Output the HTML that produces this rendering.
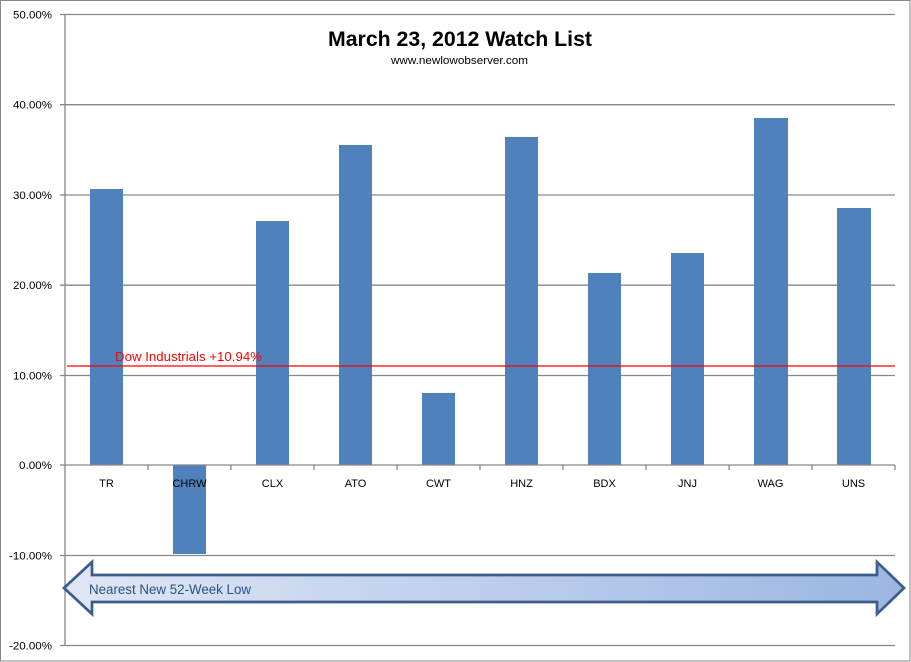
<!DOCTYPE html>
<html><head><meta charset="utf-8"><style>
html,body{margin:0;padding:0;background:#fff;}
svg{display:block;}
text{font-family:"Liberation Sans",sans-serif;}
</style></head><body>
<svg width="911" height="662" viewBox="0 0 911 662" xmlns="http://www.w3.org/2000/svg">
<defs>
<linearGradient id="ag" x1="0" y1="0" x2="1" y2="0">
<stop offset="0" stop-color="#dfe7f5"/>
<stop offset="1" stop-color="#9bb6e2"/>
</linearGradient>
</defs>
<rect x="0.5" y="0.5" width="909.5" height="660.5" fill="#fff" stroke="#868686" stroke-width="1"/>
<g stroke="#868686" stroke-width="1.3">
<line x1="60" y1="14.5" x2="895" y2="14.5"/>
<line x1="60" y1="104.7" x2="895" y2="104.7"/>
<line x1="60" y1="195" x2="895" y2="195"/>
<line x1="60" y1="285.2" x2="895" y2="285.2"/>
<line x1="60" y1="375.5" x2="895" y2="375.5"/>
<line x1="60" y1="555.5" x2="895" y2="555.5"/>
<line x1="60" y1="645.5" x2="895" y2="645.5"/>
<line x1="65" y1="14" x2="65" y2="646"/>
</g>
<g fill="#4f81bd">
<rect x="90" y="189" width="33" height="276"/>
<rect x="173" y="465" width="33" height="89"/>
<rect x="256" y="221" width="33" height="244"/>
<rect x="339" y="145" width="33" height="320"/>
<rect x="422" y="393" width="33" height="72"/>
<rect x="505" y="137" width="33" height="328"/>
<rect x="588" y="273" width="33" height="192"/>
<rect x="671" y="253" width="33" height="212"/>
<rect x="754" y="118" width="34" height="347"/>
<rect x="837" y="208" width="34" height="257"/>
</g>
<g stroke="#868686" stroke-width="1.3">
<line x1="60" y1="465" x2="895" y2="465"/>
<line x1="148" y1="465" x2="148" y2="470"/>
<line x1="231" y1="465" x2="231" y2="470"/>
<line x1="314" y1="465" x2="314" y2="470"/>
<line x1="397" y1="465" x2="397" y2="470"/>
<line x1="480" y1="465" x2="480" y2="470"/>
<line x1="563" y1="465" x2="563" y2="470"/>
<line x1="646" y1="465" x2="646" y2="470"/>
<line x1="729" y1="465" x2="729" y2="470"/>
<line x1="812" y1="465" x2="812" y2="470"/>
<line x1="895" y1="465" x2="895" y2="470"/>
</g>
<g font-size="11" fill="#000" text-anchor="end">
<text x="52" y="18.5" textLength="39" lengthAdjust="spacingAndGlyphs">50.00%</text>
<text x="52" y="108.7" textLength="39" lengthAdjust="spacingAndGlyphs">40.00%</text>
<text x="52" y="199" textLength="39" lengthAdjust="spacingAndGlyphs">30.00%</text>
<text x="52" y="289.2" textLength="39" lengthAdjust="spacingAndGlyphs">20.00%</text>
<text x="52" y="379.5" textLength="39" lengthAdjust="spacingAndGlyphs">10.00%</text>
<text x="52" y="469" textLength="33" lengthAdjust="spacingAndGlyphs">0.00%</text>
<text x="52" y="559.5" textLength="43" lengthAdjust="spacingAndGlyphs">-10.00%</text>
<text x="52" y="649.5" textLength="43" lengthAdjust="spacingAndGlyphs">-20.00%</text>
</g>
<g font-size="11" fill="#000" text-anchor="middle">
<text x="106.5" y="487">TR</text>
<text x="189.5" y="487">CHRW</text>
<text x="272.5" y="487">CLX</text>
<text x="355.5" y="487">ATO</text>
<text x="438.5" y="487">CWT</text>
<text x="521.5" y="487">HNZ</text>
<text x="604.5" y="487">BDX</text>
<text x="687.5" y="487">JNJ</text>
<text x="770.5" y="487">WAG</text>
<text x="853.5" y="487">UNS</text>
</g>
<line x1="67" y1="366" x2="895" y2="366" stroke="#ff0000" stroke-width="1.3"/>
<text x="115" y="361" font-size="13" fill="#ff0000" textLength="147" lengthAdjust="spacingAndGlyphs">Dow Industrials +10.94%</text>
<text x="328" y="46" font-size="21" font-weight="bold" fill="#000" textLength="264" lengthAdjust="spacingAndGlyphs">March 23, 2012 Watch List</text>
<text x="391" y="64" font-size="11" fill="#000" textLength="137" lengthAdjust="spacingAndGlyphs">www.newlowobserver.com</text>
<polygon points="64,588 92,562 92,575 877,575 877,562 904,588 877,614 877,602 92,602 92,614" fill="url(#ag)" stroke="#3a5d8c" stroke-width="2.7" stroke-linejoin="miter"/>
<text x="89" y="594" font-size="13.5" fill="#2d4f80" textLength="162" lengthAdjust="spacingAndGlyphs">Nearest New 52-Week Low</text>
</svg>
</body></html>
